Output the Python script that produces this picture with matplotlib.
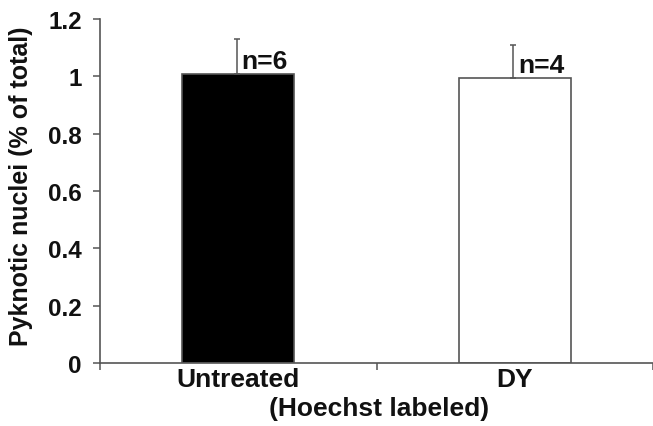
import matplotlib
matplotlib.use("Agg")
import matplotlib.pyplot as plt

categories = ["Untreated", "DY"]
values = [1.008, 0.993]
errors = [0.122, 0.115]
n_labels = ["n=6", "n=4"]
yticks = [0, 0.2, 0.4, 0.6, 0.8, 1, 1.2]
ytick_labels = ["0", "0.2", "0.4", "0.6", "0.8", "1", "1.2"]

plt.rcParams['font.family'] = ['Liberation Sans', 'DejaVu Sans']
plt.rcParams['font.weight'] = 'bold'

axis_col = "#555555"
txt_col = "#111111"

fig = plt.figure(figsize=(6.53, 4.27), dpi=100)
ax = fig.add_axes([100/653, 1-364/427, 1-100/653, (364-20)/427])

x = list(range(len(categories)))
ax.bar(x, values, width=0.405, color=["black", "white"], edgecolor=axis_col,
       linewidth=1.2, zorder=2)
for xi, v, e in zip(x, values, errors):
    ax.errorbar([xi - 0.005], [v], yerr=[[0], [e]], fmt="none", ecolor=axis_col,
                elinewidth=1.1, capsize=2.2, capthick=1.1, zorder=3)
for xi, v, lab in zip(x, values, n_labels):
    ax.text(xi + 0.012, v + 0.021, lab, fontsize=19, fontweight="bold",
            color=txt_col, ha="left", va="baseline")

ax.set_xlim(-0.5, -0.5 + 553/279)
ax.set_ylim(0, 1.2)

for s in ["top", "right"]:
    ax.spines[s].set_visible(False)
for s in ["left", "bottom"]:
    ax.spines[s].set_color(axis_col)
    ax.spines[s].set_linewidth(1.2)

ax.set_yticks(yticks)
ax.set_yticklabels(ytick_labels, fontsize=17.5, fontweight="bold", color=txt_col)
ax.tick_params(axis="y", length=5, width=1.1, color=axis_col, pad=8)

ax.set_xticks(x)
ax.set_xticklabels(categories, fontsize=19, fontweight="bold", color=txt_col)
ax.set_xticks([-0.5, 0.5, 1.5], minor=True)
ax.tick_params(axis="x", which="major", length=0, pad=3)
ax.tick_params(axis="x", which="minor", length=5, width=1.1, color=axis_col)

ax.text(1.0/(553/279), -0.131, "(Hoechst labeled)", transform=ax.transAxes,
        fontsize=19, fontweight="bold", color=txt_col, ha="center", va="center")
fig.text(21/653, 1-186/427, "Pyknotic nuclei (% of total)", rotation=90,
         fontsize=18, fontweight="bold", color=txt_col, ha="center", va="center")

fig.savefig("out.png", dpi=100)
